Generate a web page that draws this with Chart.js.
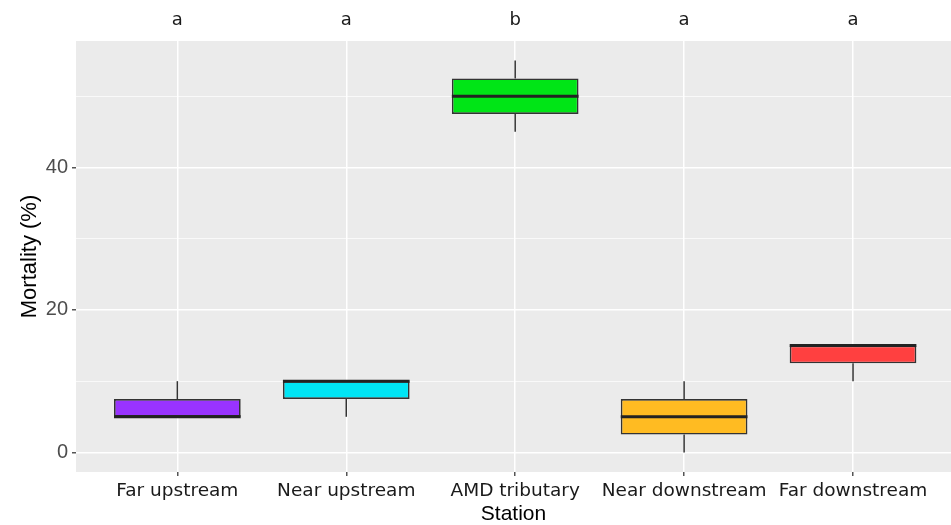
<!DOCTYPE html>
<html>
<head>
<meta charset="utf-8">
<script src="https://cdn.jsdelivr.net/npm/chart.js@4"></script>
<style>
  body { margin: 0; background: #fff; }
</style>
</head>
<body>
<canvas id="grafico" width="951" height="525"></canvas>
<script>
// datos
const estaciones = ['Far upstream', 'Near upstream', 'AMD tributary', 'Near downstream', 'Far downstream'];
const minimos = [5, 5, 45, 0, 10];
const q1 = [5, 7.5, 47.5, 2.5, 12.5];
const medianas = [5, 10, 50, 5, 15];
const q3 = [7.5, 10, 52.5, 7.5, 15];
const maximos = [10, 10, 55, 10, 15];
const letras = ['a', 'a', 'b', 'a', 'a'];
const yTicks = [0, 10, 20, 30, 40, 50];
const colores = ['#9933FF', '#00E5F5', '#00E516', '#FFBB22', '#FF4040'];

const posiciones = estaciones.map((e, i) => i + 1);

// fondo gris del panel (estilo ggplot)
const fondoPanel = {
  id: 'fondoPanel',
  beforeDraw(chart) {
    const { ctx, chartArea: a } = chart;
    ctx.save();
    ctx.fillStyle = '#EBEBEB';
    ctx.fillRect(a.left, a.top, a.right - a.left, a.bottom - a.top);
    ctx.restore();
  }
};

// bigotes detras de las cajas, medianas encima
const bigotes = {
  id: 'bigotes',
  beforeDatasetsDraw(chart) {
    const { ctx, scales: { x, y } } = chart;
    ctx.save();
    ctx.strokeStyle = '#333333';
    ctx.lineWidth = 1.5;
    posiciones.forEach((p, i) => {
      const px = x.getPixelForValue(p);
      ctx.beginPath();
      ctx.moveTo(px, y.getPixelForValue(minimos[i]));
      ctx.lineTo(px, y.getPixelForValue(q1[i]));
      ctx.moveTo(px, y.getPixelForValue(q3[i]));
      ctx.lineTo(px, y.getPixelForValue(maximos[i]));
      ctx.stroke();
    });
    ctx.restore();
  },
  afterDatasetsDraw(chart) {
    const { ctx, scales: { y } } = chart;
    const meta = chart.getDatasetMeta(0);
    ctx.save();
    ctx.strokeStyle = '#222222';
    ctx.lineWidth = 3;
    posiciones.forEach((p, i) => {
      const bar = meta.data[i];
      const half = bar.width / 2;
      const py = y.getPixelForValue(medianas[i]);
      ctx.beginPath();
      ctx.moveTo(bar.x - half, py);
      ctx.lineTo(bar.x + half, py);
      ctx.stroke();
    });
    ctx.restore();
  }
};

// letras de significancia arriba del panel
const letrasPlugin = {
  id: 'letras',
  afterDraw(chart) {
    const { ctx, scales: { x } } = chart;
    ctx.save();
    ctx.fillStyle = '#1A1A1A';
    ctx.font = '18px "DejaVu Sans"';
    ctx.textAlign = 'center';
    ctx.textBaseline = 'middle';
    posiciones.forEach((p, i) => {
      ctx.fillText(letras[i], x.getPixelForValue(p), 20);
    });
    ctx.restore();
  }
};

const ctx = document.getElementById('grafico');
new Chart(ctx, {
  type: 'bar',
  data: {
    datasets: [{
      data: posiciones.map((p, i) => ({ x: p, y: [q1[i], q3[i]] })),
      backgroundColor: colores,
      borderColor: '#333333',
      borderWidth: 1.7,
      borderSkipped: false,
      categoryPercentage: 1,
      barPercentage: 0.75
    }]
  },
  plugins: [fondoPanel, bigotes, letrasPlugin],
  options: {
    responsive: false,
    animation: false,
    events: [],
    layout: { padding: { top: 41, right: 0, left: 0, bottom: 0 } },
    plugins: {
      legend: { display: false },
      tooltip: { enabled: false }
    },
    scales: {
      x: {
        type: 'linear',
        min: 0.4,
        max: 5.58,
        offset: false,
        afterBuildTicks: s => { s.ticks = posiciones.map(v => ({ value: v })); },
        afterFit: s => { s.height = 53; },
        border: { display: false },
        grid: {
          offset: false,
          color: '#FFFFFF',
          lineWidth: 1.5,
          tickColor: '#555555',
          tickLength: 4
        },
        ticks: {
          callback: (v) => estaciones[v - 1],
          color: '#1A1A1A',
          font: { family: 'DejaVu Sans', size: 18.5 },
          padding: 4,
          maxRotation: 0,
          autoSkip: false
        },
        title: {
          display: true,
          text: 'Station',
          color: '#000000',
          font: { family: 'Liberation Sans', size: 21, lineHeight: 1 },
          padding: { top: 4, bottom: 0 }
        }
      },
      y: {
        min: -2.75,
        max: 57.75,
        afterBuildTicks: s => { s.ticks = yTicks.map(v => ({ value: v })); },
        afterFit: s => { s.width = 76; },
        border: { display: false },
        grid: {
          color: '#FFFFFF',
          lineWidth: c => (c.tick && c.tick.value % 20 === 0 ? 1.5 : 0.7),
          tickColor: c => (c.tick && c.tick.value % 20 === 0 ? '#555555' : 'rgba(0,0,0,0)'),
          tickLength: 4
        },
        ticks: {
          callback: (v) => (v % 20 === 0 ? v : ''),
          color: '#4D4D4D',
          font: { family: 'Liberation Sans', size: 20 },
          padding: 4
        },
        title: {
          display: true,
          text: 'Mortality (%)',
          color: '#000000',
          font: { family: 'Liberation Sans', size: 22 },
          padding: { top: 17, bottom: 0 }
        }
      }
    }
  }
});
</script>
</body>
</html>
